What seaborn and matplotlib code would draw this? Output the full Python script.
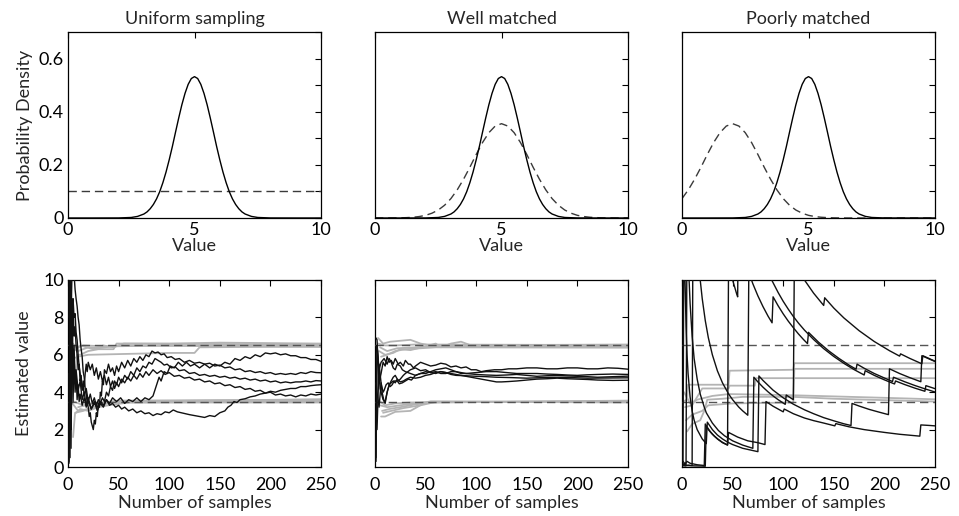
import numpy as np
import matplotlib
matplotlib.use("Agg")
import matplotlib.pyplot as plt
import seaborn as sns

# ---------------- data ----------------
panel_titles = ["Uniform sampling", "Well matched", "Poorly matched"]

# target density (solid) : N(5, 0.75)
target_x = [0, 1, 2, 2.5, 2.75, 3.0, 3.125, 3.25, 3.375, 3.5, 3.625, 3.75, 3.875, 4.0, 4.125,
            4.25, 4.375, 4.5, 4.625, 4.75, 4.875, 5.0, 5.125, 5.25, 5.375, 5.5, 5.625, 5.75,
            5.875, 6.0, 6.125, 6.25, 6.375, 6.5, 6.625, 6.75, 6.875, 7.0, 7.25, 7.5, 8, 9, 10]
target_y = [0, 0, 0.0002, 0.002, 0.006, 0.015, 0.023, 0.035, 0.051, 0.072, 0.099, 0.133, 0.173,
            0.219, 0.269, 0.323, 0.376, 0.426, 0.469, 0.503, 0.525, 0.532, 0.525, 0.503, 0.469,
            0.426, 0.376, 0.323, 0.269, 0.219, 0.173, 0.133, 0.099, 0.072, 0.051, 0.035, 0.023,
            0.015, 0.006, 0.002, 0.0002, 0, 0]

# proposal densities (dashed)
uniform_x = [0, 10]
uniform_y = [0.1, 0.1]

prop_x = [0, 0.25, 0.5, 0.75, 1.0, 1.25, 1.5, 1.75, 2.0, 2.25, 2.5, 2.75, 3.0, 3.25, 3.5, 3.75,
          4.0, 4.25, 4.5, 4.75, 5.0, 5.25, 5.5, 5.75, 6.0, 6.25, 6.5, 6.75, 7.0, 7.25, 7.5, 7.75,
          8.0, 8.25, 8.5, 8.75, 9.0, 9.25, 9.5, 9.75, 10.0]
well_y = [0, 0, 0.0001, 0.0003, 0.0006, 0.0014, 0.0028, 0.0055, 0.010, 0.018, 0.030, 0.048,
          0.073, 0.106, 0.146, 0.191, 0.239, 0.284, 0.321, 0.346, 0.355, 0.346, 0.321, 0.284,
          0.239, 0.191, 0.146, 0.106, 0.073, 0.048, 0.030, 0.018, 0.010, 0.0055, 0.0028, 0.0014,
          0.0006, 0.0003, 0.0001, 0, 0]
poor_y = [0.073, 0.106, 0.146, 0.191, 0.239, 0.284, 0.321, 0.346, 0.355, 0.346, 0.321, 0.284,
          0.239, 0.191, 0.146, 0.106, 0.073, 0.048, 0.030, 0.018, 0.010, 0.0055, 0.0028, 0.0014,
          0.0006, 0.0003, 0.0001, 0, 0, 0, 0, 0, 0, 0, 0, 0, 0, 0, 0, 0, 0]

density_ticks = [0, 0.1, 0.2, 0.3, 0.4, 0.5, 0.6, 0.7]
density_labels = ["0", "", "0.2", "", "0.4", "", "0.6", ""]
value_ticks = [0, 5, 10]
sample_ticks = [0, 50, 100, 150, 200, 250]
estimate_ticks = [0, 2, 4, 6, 8, 10]
bound_levels = [3.5, 6.5]

# ---- running estimates, uniform sampling (black) ----
uni_black_1 = [(1,0.2),(2,9.5),(3,4.0),(4,7.5),(5,5.0),(6,6.5),(7,4.5),(8,5.2),(10,4.1),(12,4.6),
    (14,3.6),(16,4.0),(18,3.3),(20,3.7),(23,3.1),(26,3.5),(29,3.0),(32,3.4),(35,3.2),(38,3.6),
    (41,3.4),(44,3.7),(48,3.5),(52,3.7),(56,3.4),(60,3.6),(64,3.5),(68,3.7),(72,3.5),(76,3.7),
    (80,3.6),(84,3.8),(87,4.3),(90,4.8),(92,4.6),(95,5.1),(98,5.0),(101,5.4),(105,5.3),(109,5.6),
    (113,5.4),(117,5.6),(121,5.4),(125,5.5),(130,5.3),(135,5.5),(140,5.3),(145,5.5),(150,5.4),
    (155,5.6),(160,5.5),(165,5.8),(170,5.7),(175,5.9),(180,5.8),(185,6.0),(190,5.9),(195,6.1),
    (200,6.05),(205,6.1),(210,6.0),(215,6.05),(220,5.95),(225,5.95),(230,5.85),(235,5.85),
    (240,5.75),(245,5.75),(250,5.65)]
uni_black_2 = [(1,10.5),(2,3.0),(3,8.0),(4,10.5),(5,10.5),(6,10.3),(7,9.5),(8,9.0),(9,8.6),(10,8.0),
    (11,7.6),(12,6.8),(13,6.3),(14,5.9),(15,5.1),(16,4.8),(17,4.2),(18,3.9),(19,3.4),(20,3.2),
    (21,2.7),(22,2.9),(23,2.4),(24,2.2),(25,2.0),(26,2.5),(27,2.3),(28,2.9),(29,2.7),(30,3.4),
    (31,3.2),(32,4.0),(33,3.8),(34,4.6),(35,4.4),(36,5.2),(38,5.0),(40,5.5),(42,5.1),(44,5.3),
    (46,4.9),(48,5.4),(50,5.1),(53,5.6),(56,5.3),(59,5.7),(62,5.4),(65,5.8),(68,5.6),(71,5.9),
    (74,5.7),(77,6.0),(80,5.9),(83,6.2),(86,6.1),(89,6.15),(92,6.0),(95,6.05),(98,5.85),(102,5.9),
    (106,5.75),(110,5.8),(115,5.6),(120,5.7),(125,5.55),(130,5.6),(135,5.5),(140,5.55),(145,5.4),
    (150,5.45),(155,5.3),(160,5.35),(165,5.2),(170,5.25),(175,5.1),(180,5.15),(185,5.05),(190,5.1),
    (195,5.0),(200,5.05),(205,4.95),(210,5.0),(215,4.95),(220,5.0),(225,4.95),(230,5.05),(235,5.0),
    (240,5.1),(245,5.05),(250,5.04)]
uni_black_3 = [(1,5.0),(2,0.5),(3,10.5),(4,6.0),(5,8.5),(6,7.0),(7,7.5),(8,6.5),(9,6.0),(10,5.2),
    (11,5.5),(12,4.6),(13,4.9),(14,4.1),(15,4.4),(16,3.8),(18,4.2),(20,3.5),(22,3.9),(24,3.4),
    (26,3.7),(28,3.3),(30,3.6),(32,3.4),(34,3.7),(36,3.5),(38,4.0),(40,3.8),(42,4.3),(44,4.1),
    (46,4.6),(48,4.4),(50,4.8),(53,4.5),(56,4.9),(59,4.7),(62,5.1),(65,4.9),(68,5.3),(71,5.1),
    (74,5.4),(77,5.3),(80,5.6),(83,5.5),(86,5.8),(89,5.7),(92,5.6),(95,5.45),(98,5.5),(102,5.3),
    (106,5.35),(110,5.15),(115,5.2),(120,5.0),(125,5.05),(130,4.9),(135,4.95),(140,4.85),(145,4.9),
    (150,4.8),(155,4.85),(160,4.75),(165,4.8),(170,4.7),(175,4.75),(180,4.65),(185,4.7),(190,4.6),
    (195,4.65),(200,4.55),(205,4.6),(210,4.5),(215,4.55),(220,4.5),(225,4.55),(230,4.55),(235,4.6),
    (240,4.55),(245,4.62),(250,4.6)]
uni_black_4 = [(1,0.3),(2,6.0),(3,1.0),(4,9.0),(5,3.5),(6,6.0),(7,4.0),(8,5.0),(9,3.6),(10,4.4),
    (11,3.5),(12,3.9),(14,3.3),(16,3.7),(18,3.2),(20,3.5),(23,3.1),(26,3.4),(29,3.2),(32,3.5),
    (35,3.3),(38,3.6),(41,3.3),(44,3.4),(47,3.2),(50,3.3),(53,3.1),(56,3.2),(60,3.0),(64,3.1),
    (68,2.9),(72,3.0),(76,2.85),(80,2.9),(84,2.75),(88,2.85),(92,2.8),(96,2.95),(100,2.9),
    (104,3.05),(108,2.95),(112,2.9),(116,2.85),(120,2.8),(125,2.75),(130,2.7),(135,2.65),
    (140,2.75),(145,2.7),(150,2.9),(155,3.0),(158,3.2),(161,3.3),(164,3.5),(167,3.45),(170,3.6),
    (175,3.65),(180,3.75),(185,3.8),(190,3.9),(195,3.95),(200,4.05),(205,4.0),(210,4.1),
    (215,4.15),(220,4.2),(225,4.2),(230,4.3),(235,4.3),(240,4.35),(245,4.38),(250,4.4)]
uni_black_5 = [(1,8.0),(2,10.5),(3,2.0),(4,5.0),(5,9.0),(6,8.0),(7,8.2),(8,7.2),(9,6.8),(10,6.0),
    (11,5.4),(12,5.0),(13,4.5),(14,4.2),(15,4.6),(16,4.3),(17,5.0),(18,5.5),(19,5.1),(20,5.6),
    (22,5.2),(24,5.5),(26,4.9),(28,5.3),(30,4.7),(32,5.1),(34,4.6),(36,4.9),(38,4.4),(40,4.8),
    (42,4.3),(44,4.6),(46,4.2),(48,4.5),(50,4.3),(53,4.7),(56,4.5),(59,4.8),(62,4.6),(65,4.9),
    (68,4.7),(71,5.0),(74,4.8),(77,5.1),(80,4.9),(84,5.2),(88,5.0),(92,5.15),(96,4.95),(100,5.05),
    (105,4.85),(110,4.9),(115,4.75),(120,4.8),(125,4.65),(130,4.7),(135,4.55),(140,4.6),(145,4.45),
    (150,4.5),(155,4.35),(160,4.4),(165,4.25),(170,4.3),(175,4.15),(180,4.2),(185,4.05),(190,4.1),
    (195,3.95),(200,4.0),(205,3.85),(210,3.9),(215,3.8),(220,3.85),(225,3.75),(230,3.85),
    (235,3.8),(240,3.9),(245,3.85),(250,3.9)]
# uniform sampling (grey bounds)
uni_grey_1 = [(1,5.2),(8,5.2),(9,6.0),(12,6.0),(20,6.2),(30,6.3),(45,6.3),(48,6.6),(100,6.6),(150,6.65),(250,6.6)]
uni_grey_2 = [(3,6.5),(10,6.4),(15,6.5),(40,6.45),(100,6.5),(250,6.5)]
uni_grey_3 = [(5,5.8),(10,5.9),(20,6.0),(60,6.05),(100,6.1),(125,6.1),(130,6.4),(250,6.45)]
uni_grey_4 = [(6,6.2),(12,6.5),(25,6.3),(35,6.5),(45,6.4),(55,6.6),(250,6.55)]
uni_grey_5 = [(2,6.0),(5,6.6),(10,6.2),(20,6.4),(30,6.35),(50,6.5),(250,6.42)]
uni_grey_6 = [(5,1.6),(7,2.9),(15,3.0),(25,3.2),(35,3.4),(50,3.5),(250,3.55)]
uni_grey_7 = [(3,3.5),(10,3.0),(20,3.1),(30,3.3),(45,3.45),(250,3.5)]
uni_grey_8 = [(8,2.9),(12,3.1),(20,3.0),(30,3.2),(40,3.3),(60,3.45),(250,3.45)]
uni_grey_9 = [(10,3.2),(25,3.4),(50,3.55),(250,3.6)]
uni_grey_10 = [(6,3.5),(15,3.3),(30,3.4),(50,3.5),(250,3.62)]

# ---- well matched (black) ----
well_black_1 = [(1,6.9),(2,6.8),(4,4.5),(6,5.0),(8,5.6),(10,5.4),(12,5.9),(14,5.6),(16,5.7),(18,5.5),
    (20,5.8),(23,5.5),(25,5.6),(28,5.4),(30,5.7),(33,5.5),(35,5.5),(38,5.3),(40,5.4),(45,5.6),
    (50,5.5),(55,5.4),(60,5.45),(65,5.55),(70,5.5),(75,5.35),(80,5.4),(85,5.3),(90,5.35),(95,5.2),
    (100,5.2),(105,5.1),(110,5.15),(118,5.2),(125,5.2),(132,5.25),(140,5.25),(150,5.3),(160,5.3),
    (170,5.25),(180,5.25),(190,5.3),(200,5.3),(210,5.25),(220,5.25),(230,5.3),(240,5.28),(250,5.23)]
well_black_2 = [(1,3.0),(2,2.0),(4,5.5),(7,4.0),(9,3.5),(10,3.4),(12,4.0),(13,4.2),(15,4.5),(16,4.6),
    (18,4.8),(20,4.9),(23,4.6),(25,4.7),(28,4.9),(30,5.0),(35,5.2),(40,5.3),(45,5.15),(50,5.2),
    (55,5.05),(60,5.1),(65,5.0),(70,5.0),(75,5.1),(80,5.1),(85,5.0),(90,5.0),(100,5.05),(110,5.1),
    (120,5.1),(130,5.05),(140,5.0),(150,5.0),(160,5.0),(170,4.97),(180,4.95),(190,4.92),(200,4.9),
    (210,4.93),(220,4.95),(235,4.97),(250,4.95)]
well_black_3 = [(1,0.3),(2,6.5),(3,5.8),(5,4.2),(7,3.8),(8,3.6),(10,3.5),(12,4.0),(14,4.4),(16,4.5),
    (18,4.6),(20,4.5),(22,4.7),(25,4.55),(28,4.6),(31,4.7),(35,4.8),(40,4.75),(45,4.8),(50,4.9),
    (55,4.95),(60,5.05),(65,5.1),(70,5.05),(75,5.0),(80,4.95),(85,4.9),(90,4.85),(95,4.8),
    (100,4.75),(105,4.7),(110,4.65),(115,4.6),(120,4.55),(125,4.55),(132,4.57),(140,4.6),
    (150,4.65),(160,4.7),(170,4.72),(180,4.75),(190,4.72),(200,4.7),(210,4.68),(220,4.65),
    (235,4.63),(250,4.64)]
well_black_4 = [(1,0.5),(2,6.5),(4,5.2),(6,5.6),(9,5.8),(12,5.5),(14,5.8),(16,5.6),(18,5.3),(20,5.2),
    (22,5.5),(25,5.4),(27,5.2),(30,5.1),(35,5.0),(40,4.9),(45,5.0),(50,5.0),(55,5.1),(60,5.2),
    (65,5.25),(70,5.3),(75,5.2),(80,5.1),(85,5.05),(90,5.0),(100,4.95),(110,4.92),(120,4.9),
    (130,4.92),(140,4.95),(150,4.9),(160,4.85),(170,4.88),(180,4.9),(190,4.87),(200,4.85),
    (210,4.83),(220,4.8),(235,4.83),(250,4.86)]
well_black_5 = [(1,4.5),(2,4.0),(4,3.2),(6,4.5),(8,4.0),(9,4.1),(11,4.4),(13,4.5),(15,4.3),(17,4.4),
    (19,4.6),(22,4.6),(24,4.45),(27,4.5),(30,4.6),(33,4.7),(36,4.65),(40,4.9),(45,5.0),(50,5.1),
    (55,5.05),(60,5.0),(65,5.1),(70,5.05),(75,4.95),(80,4.9),(90,4.88),(100,4.85),(110,4.83),
    (120,4.8),(135,4.78),(150,4.75),(165,4.78),(180,4.8),(195,4.78),(210,4.75),(230,4.76),(250,4.77)]
# well matched (grey bounds)
well_grey_1 = [(3,6.9),(8,6.6),(15,6.7),(25,6.75),(35,6.8),(45,6.6),(55,6.5),(250,6.55)]
well_grey_2 = [(4,6.2),(10,6.0),(18,6.1),(25,6.3),(35,6.25),(50,6.45),(60,6.6),(65,6.4),(75,6.6),(85,6.7),(95,6.5),(250,6.5)]
well_grey_3 = [(5,6.4),(12,6.2),(22,6.35),(40,6.4),(55,6.45),(250,6.42)]
well_grey_4 = [(6,5.9),(12,6.0),(20,6.2),(30,6.3),(45,6.35),(60,6.4),(250,6.38)]
well_grey_5 = [(3,6.6),(10,6.5),(20,6.5),(40,6.55),(250,6.52)]
well_grey_6 = [(6,2.7),(10,2.7),(20,2.95),(35,3.0),(48,3.4),(55,3.5),(250,3.5)]
well_grey_7 = [(5,3.3),(12,3.2),(25,3.3),(40,3.4),(55,3.5),(250,3.45)]
well_grey_8 = [(7,3.0),(14,3.1),(25,3.2),(40,3.35),(55,3.45),(250,3.55)]
well_grey_9 = [(5,3.5),(10,3.3),(20,3.4),(35,3.45),(250,3.52)]
well_grey_10 = [(8,2.9),(16,3.0),(28,3.15),(45,3.3),(60,3.48),(250,3.48)]

# ---- poorly matched (black) ----
poor_black_1 = [(1,0.3),(4,0.1),(5,14.0),(7,10.0),(8,8.75),(10,7.0),(12,5.8),(15,4.7),(18,3.9),
    (22,3.2),(24,2.9),(30,2.35),(36,1.95),(42,1.67),(50,1.4),(60,1.17),(70,1.0),(71,4.8),(75,4.55),
    (80,4.27),(85,4.02),(90,3.8),(95,3.6),(102,3.35),(103,3.85),(110,3.6),(111,10.9),(116,10.4),
    (121,10.0),(130,9.3),(138,8.77),(140,8.64),(141,9.05),(150,8.5),(160,7.97),(175,7.29),
    (190,6.71),(205,6.22),(215,5.93),(216,6.05),(225,5.81),(237,5.52),(238,5.95),(245,5.78),(250,5.66)]
poor_black_2 = [(1,0.1),(3,0.05),(6,0.1),(10,0.08),(11,16.4),(14,12.9),(18,10.0),(20,9.0),(23,7.83),
    (26,6.92),(30,6.0),(35,5.14),(40,4.5),(46,3.91),(50,3.6),(56,3.21),(60,3.0),(65,2.77),(66,10.4),
    (70,9.8),(75,9.15),(80,8.58),(85,8.07),(89,7.71),(90,9.1),(95,8.62),(100,8.19),(105,7.8),
    (110,7.45),(115,7.12),(120,6.82),(124,6.6),(125,7.2),(135,6.67),(145,6.21),(155,5.81),(165,5.45),
    (172,5.23),(173,5.5),(180,5.28),(190,5.0),(200,4.76),(208,4.57),(209,4.8),(220,4.56),(230,4.36),
    (240,4.18),(250,4.01)]
poor_black_3 = [(1,0.2),(2,0.1),(5,0.08),(12,0.06),(20,0.05),(23,0.04),(24,2.2),(28,1.89),(32,1.65),
    (36,1.47),(40,1.32),(45,1.18),(46,10.9),(50,10.0),(54,9.26),(55,9.1),(56,15.8),(70,12.7),
    (80,11.1),(88,10.07),(89,9.96),(95,9.33),(100,8.86),(105,8.44),(110,8.05),(115,7.7),(121,7.32),
    (130,6.82),(140,6.33),(150,5.91),(160,5.54),(170,5.21),(180,4.92),(181,5.15),(190,4.9),
    (200,4.66),(210,4.44),(211,4.6),(220,4.41),(230,4.22),(240,4.05),(241,4.35),(250,4.19)]
poor_black_4 = [(1,0.3),(2,15.0),(3,10.0),(4,7.5),(5,6.0),(6,5.0),(8,3.75),(10,3.0),(12,2.5),(15,2.0),
    (20,1.5),(24,1.25),(25,2.4),(30,2.0),(35,1.71),(40,1.5),(45,1.33),(50,1.2),(60,1.0),(75,0.82),
    (76,4.87),(80,4.63),(90,4.11),(100,3.7),(110,3.36),(121,3.06),(130,2.85),(140,2.64),(150,2.47),
    (160,2.31),(167,2.22),(168,3.4),(175,3.26),(185,3.08),(195,2.93),(204,2.8),(205,5.25),(215,5.0),
    (225,4.78),(236,4.56),(237,5.95),(245,5.76),(250,5.64)]
poor_black_5 = [(1,0.05),(5,0.3),(8,0.2),(15,0.12),(22,0.08),(23,2.3),(26,2.0),(30,1.75),(35,1.5),
    (40,1.3),(45,1.17),(46,1.85),(55,1.6),(65,1.4),(75,1.3),(82,1.2),(83,3.5),(90,3.25),(100,2.95),
    (101,3.1),(110,2.85),(121,2.62),(130,2.48),(140,2.35),(151,2.2),(152,2.32),(165,2.15),(180,2.0),
    (200,1.85),(215,1.75),(235,1.65),(236,2.25),(245,2.22),(250,2.2)]
# poorly matched (grey)
poor_grey_1 = [(1,3.5),(5,3.6),(6,4.4),(46,4.4),(47,5.15),(110,5.2),(111,5.55),(250,5.55)]
poor_grey_2 = [(3,3.2),(10,3.3),(20,4.2),(46,4.2),(47,4.35),(72,4.35),(73,4.75),(250,4.75)]
poor_grey_3 = [(5,1.9),(10,2.3),(18,2.5),(22,3.0),(25,3.6),(40,3.65),(60,3.75),(110,3.75),(150,3.65),(250,3.5)]
poor_grey_4 = [(4,2.5),(10,2.8),(20,3.0),(26,3.3),(50,3.4),(110,3.45),(111,5.25),(250,5.25)]
poor_grey_5 = [(2,4.0),(8,3.4),(15,3.6),(30,3.8),(46,3.9),(100,3.85),(200,3.7),(250,3.62)]

uni_black = [uni_black_1, uni_black_2, uni_black_3, uni_black_4, uni_black_5]
uni_grey = [uni_grey_1, uni_grey_2, uni_grey_3, uni_grey_4, uni_grey_5,
            uni_grey_6, uni_grey_7, uni_grey_8, uni_grey_9, uni_grey_10]
well_black = [well_black_1, well_black_2, well_black_3, well_black_4, well_black_5]
well_grey = [well_grey_1, well_grey_2, well_grey_3, well_grey_4, well_grey_5,
             well_grey_6, well_grey_7, well_grey_8, well_grey_9, well_grey_10]
poor_black = [poor_black_1, poor_black_2, poor_black_3, poor_black_4, poor_black_5]
poor_grey = [poor_grey_1, poor_grey_2, poor_grey_3, poor_grey_4, poor_grey_5]

# ---------------- style ----------------
sns.set_theme(style="white")
plt.rcParams["font.family"] = ["Lato", "DejaVu Sans"]
plt.rcParams["axes.edgecolor"] = "black"
plt.rcParams["axes.linewidth"] = 0.9

FS = 13
W, H = 959, 516
fig = plt.figure(figsize=(W / 100, H / 100), dpi=100)
lefts = [68, 375, 682]
aw = 253
top_axes = [fig.add_axes([l / W, (H - 218) / H, aw / W, 186 / H]) for l in lefts]
bot_axes = [fig.add_axes([l / W, (H - 467) / H, aw / W, 187 / H]) for l in lefts]


def draw(ax, pts, color, lw, zorder):
    n = np.array([p[0] for p in pts], dtype=float)
    v = np.array([p[1] for p in pts], dtype=float)
    sns.lineplot(x=n, y=v, ax=ax, color=color, lw=lw, estimator=None, sort=False,
                 zorder=zorder, legend=False)


def style_axes(ax, xpad):
    ax.tick_params(axis="both", which="major", direction="in", top=True, right=True,
                   length=4, width=0.8, labelsize=FS, colors="black")
    ax.tick_params(axis="y", which="major", pad=3)
    ax.tick_params(axis="x", which="major", pad=xpad)
    for s in ax.spines.values():
        s.set_visible(True)
        s.set_color("black")
        s.set_linewidth(0.9)


# top row: densities
proposals = [(uniform_x, uniform_y), (prop_x, well_y), (prop_x, poor_y)]
for i, ax in enumerate(top_axes):
    px, py = proposals[i]
    sns.lineplot(x=np.array(px, float), y=np.array(py, float), ax=ax, color="#3a3a3a", lw=1.0,
                 estimator=None, sort=False, legend=False)
    ax.lines[-1].set_dashes((6, 3.5))
    sns.lineplot(x=np.array(target_x, float), y=np.array(target_y, float), ax=ax, color="black",
                 lw=1.0, estimator=None, sort=False, legend=False)
    ax.set_xlim(0, 10)
    ax.set_ylim(0, 0.7)
    ax.set_xticks(value_ticks)
    ax.set_xticklabels([str(t) for t in value_ticks])
    ax.set_yticks(density_ticks)
    style_axes(ax, 3)
    if i == 0:
        ax.set_yticklabels(density_labels)
        ax.set_ylabel("Probability Density", fontsize=FS, labelpad=4)
    else:
        ax.set_yticklabels([])
        ax.set_ylabel("")
    ax.set_xlabel("Value", fontsize=FS)
    ax.xaxis.set_label_coords(0.5, -0.108)
    ax.set_title(panel_titles[i], fontsize=FS, pad=6)

# bottom row: running estimates
groups = [(uni_black, uni_grey), (well_black, well_grey), (poor_black, poor_grey)]
for i, ax in enumerate(bot_axes):
    blacks, greys = groups[i]
    for g in greys:
        draw(ax, g, "#b4b4b4", 1.3, 2)
    for lvl in bound_levels:
        ax.axhline(lvl, color="#555555", lw=1.0, dashes=(6, 3.5), zorder=3)
    for b in blacks:
        draw(ax, b, "#111111", 1.0, 4)
    ax.set_xlim(0, 250)
    ax.set_ylim(0, 10)
    ax.set_xticks(sample_ticks)
    ax.set_xticklabels([str(t) for t in sample_ticks])
    ax.set_yticks(estimate_ticks)
    style_axes(ax, 7)
    if i == 0:
        ax.set_yticklabels([str(t) for t in estimate_ticks])
        ax.set_ylabel("Estimated value", fontsize=FS, labelpad=8)
    else:
        ax.set_yticklabels([])
        ax.set_ylabel("")
    ax.set_xlabel("Number of samples", fontsize=FS)
    ax.xaxis.set_label_coords(0.5, -0.15)

fig.savefig("out.png", dpi=100)
